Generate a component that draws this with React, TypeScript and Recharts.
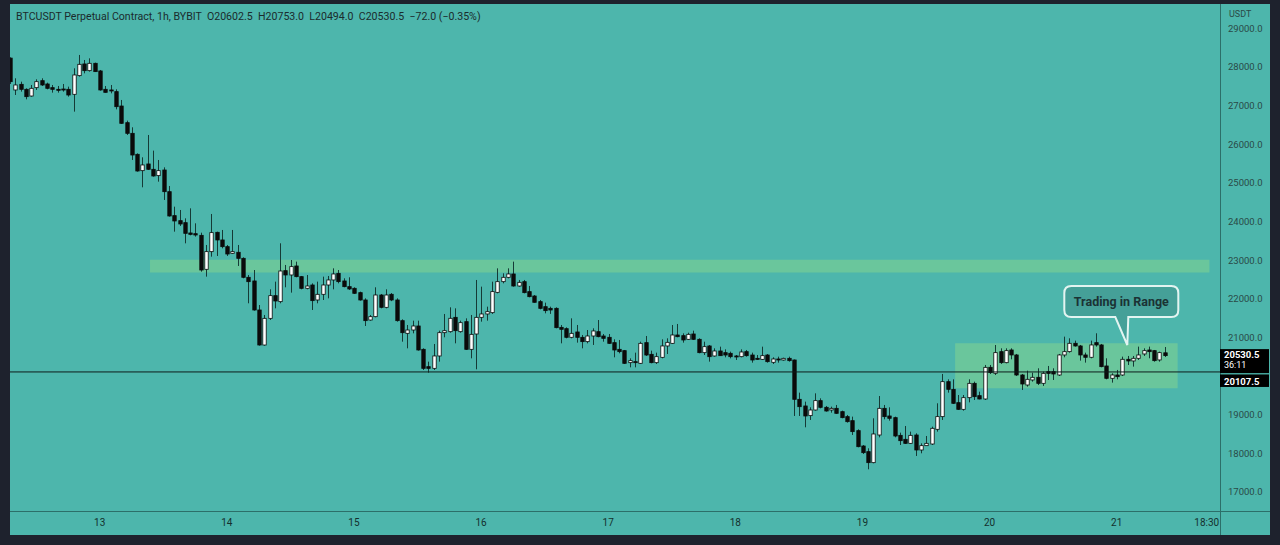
import React from "react";
import { Bar, ComposedChart, ReferenceArea, ReferenceDot, ReferenceLine, XAxis, YAxis } from "recharts";

// BTCUSDT 1h candles (oldest first)
const opens = [
  28230, 27405, 27551, 27422, 27249, 27465, 27646, 27560, 27465, 27422, 27430, 27422, 27293, 27776, 28078, 27905,
  28095, 27897, 27422, 27405, 27362, 26990, 26559, 26283, 25740, 25317, 25490, 25352, 25188, 25334, 24773, 24153,
  24023, 23971, 23704, 23686, 23643, 22764, 23221, 23721, 23523, 23350, 23178, 23204, 23048, 22557, 22462, 21711,
  20805, 21495, 22082, 21927, 22729, 22617, 22850, 22574, 22272, 22358, 21970, 22117, 22358, 22488, 22660, 22462,
  22315, 22272, 22160, 21970, 21452, 21538, 22099, 21780, 22117, 21970, 21435, 21107, 21193, 21297, 20693, 20244,
  20201, 20521, 21124, 21150, 21521, 21150, 21409, 20693, 21090, 21521, 21608, 21642, 22168, 22444, 22557, 22643,
  22332, 22444, 22186, 22073, 21927, 21797, 21754, 21754, 21262, 21228, 21004, 21142, 21004, 20892, 21038, 21150,
  21038, 21004, 20866, 20693, 20659, 20348, 20374, 20331, 20866, 20564, 20348, 20486, 20780, 20848, 21064, 21047,
  20952, 21090, 20952, 20607, 20780, 20521, 20650, 20607, 20590, 20521, 20503, 20633, 20546, 20460, 20434, 20546,
  20357, 20443, 20417, 20460, 20417, 19399, 19227, 18977, 19123, 19365, 19192, 19123, 19166, 19080, 18951, 18847,
  18589, 18191, 18045, 17760, 18476, 19166, 18968, 18925, 18467, 18364, 18260, 18476, 18088, 18200, 18243, 18623,
  18951, 19856, 19658, 19313, 19140, 19442, 19813, 19494, 19408, 20228, 20073, 20633, 20348, 20676, 20547, 20029,
  19770, 19900, 19969, 19813, 20116, 20116, 20029, 20547, 20633, 20849, 20780, 20547, 20487, 20866, 20806, 20262,
  19943, 20029, 20029, 20435, 20392, 20461, 20573, 20676, 20659, 20418, 20602.5,
];
const highs = [
  28250, 27707, 27620, 27448, 27534, 27681, 27707, 27594, 27534, 27508, 27560, 27491, 27966, 28311, 28181, 28224,
  28112, 27922, 27508, 27534, 27422, 27146, 26611, 26439, 25765, 25662, 26240, 25835, 25593, 25403, 24920, 24385,
  24299, 24083, 24342, 23954, 23712, 23393, 24196, 23738, 23782, 23393, 23782, 23393, 23074, 22617, 22746, 21840,
  21582, 22246, 22445, 23437, 22876, 23005, 22962, 22591, 22617, 22401, 22445, 22574, 22591, 22789, 22746, 22531,
  22557, 22298, 22186, 22013, 21582, 22298, 22125, 22246, 22150, 22013, 21470, 21323, 21435, 21435, 20719, 20374,
  20831, 21176, 21608, 21780, 21754, 21435, 21495, 21582, 22488, 22315, 21797, 22444, 22789, 22660, 22789, 22962,
  22488, 22488, 22332, 22099, 21970, 21901, 21797, 21780, 21323, 21262, 21495, 21323, 21064, 21193, 21237, 21452,
  21090, 21090, 20952, 20935, 20676, 20460, 20607, 20891, 21038, 20659, 20607, 20952, 20978, 21323, 21349, 21107,
  21124, 21176, 20978, 20891, 20805, 20719, 20762, 20693, 20633, 20546, 20693, 20676, 20607, 20546, 20762, 20572,
  20486, 20503, 20477, 20503, 20430, 19572, 19339, 19192, 19554, 19425, 19227, 19209, 19253, 19106, 18994, 18951,
  18623, 18217, 18131, 18908, 19485, 19253, 19192, 18951, 18537, 18709, 18563, 18520, 18260, 18450, 18692, 19296,
  20055, 19917, 19917, 19511, 19511, 19917, 19856, 19597, 20288, 20288, 20805, 20719, 20719, 20719, 20573, 20055,
  20141, 20089, 20202, 20116, 20262, 20202, 20573, 21021, 20978, 20918, 20806, 20607, 20918, 21108, 20832, 20461,
  20072, 20159, 20504, 20521, 20521, 20763, 20719, 20763, 20676, 20633, 20753,
];
const lows = [
  27560, 27275, 27362, 27163, 27232, 27405, 27508, 27422, 27336, 27336, 27362, 27232, 26844, 27750, 27836, 27880,
  27870, 27387, 27336, 27318, 26904, 26525, 26240, 25593, 25291, 24886, 25334, 25162, 25032, 24558, 24127, 23738,
  23885, 23436, 23643, 23609, 22703, 22574, 23091, 23109, 23307, 23109, 23160, 22850, 22531, 21884, 21694, 20788,
  20788, 21452, 21754, 21884, 22298, 22160, 22557, 22246, 22246, 21711, 21884, 21970, 22013, 22246, 22401, 22298,
  22229, 22125, 21953, 21297, 21435, 21521, 21754, 21754, 21940, 21409, 20891, 20719, 21107, 20659, 20158, 20089,
  20158, 20374, 21004, 21124, 20848, 21124, 20676, 20460, 20176, 21409, 21435, 21608, 22142, 22401, 22530, 22315,
  22315, 22142, 22039, 21901, 21728, 21625, 21610, 21237, 20848, 20978, 20978, 20866, 20719, 20848, 20806, 21004,
  20891, 20831, 20486, 20590, 20313, 20227, 20227, 20313, 20521, 20331, 20313, 20460, 20572, 20831, 21004, 20866,
  20935, 20935, 20590, 20546, 20374, 20503, 20521, 20486, 20460, 20417, 20486, 20503, 20348, 20417, 20417, 20348,
  20313, 20348, 20400, 20374, 18968, 18968, 18675, 18865, 19106, 19166, 19080, 19054, 19020, 18908, 18796, 18476,
  18157, 17984, 17588, 17743, 18416, 18882, 18847, 18416, 18217, 18243, 18243, 17933, 18002, 18191, 18217, 18563,
  18865, 19572, 19278, 19123, 19106, 19321, 19382, 19399, 19382, 20055, 20029, 20314, 20331, 20435, 20003, 19641,
  19727, 19857, 19770, 19745, 19900, 19900, 20003, 20487, 20607, 20763, 20400, 20349, 20461, 20763, 20228, 19917,
  19831, 19917, 20003, 20288, 20245, 20418, 20521, 20461, 20374, 20374, 20494,
];
const closes = [
  27620, 27534, 27422, 27232, 27448, 27620, 27534, 27448, 27422, 27405, 27414, 27275, 27793, 28069, 27905, 28095,
  27880, 27405, 27344, 27379, 26973, 26542, 26283, 25722, 25308, 25464, 25352, 25179, 25317, 24773, 24144, 24015,
  23937, 23695, 23669, 23652, 22746, 23221, 23713, 23523, 23350, 23160, 23221, 23048, 22557, 22444, 21711, 20805,
  21495, 22082, 21944, 22720, 22617, 22833, 22574, 22272, 22332, 21953, 22117, 22358, 22488, 22643, 22445, 22315,
  22255, 22143, 21970, 21435, 21538, 22099, 21780, 22099, 21970, 21435, 21124, 21193, 21297, 20676, 20201, 20201,
  20521, 21124, 21176, 21496, 21176, 21383, 20693, 21081, 21521, 21608, 21668, 22186, 22444, 22557, 22643, 22332,
  22427, 22160, 22056, 21910, 21754, 21694, 21711, 21254, 21211, 21004, 21107, 21004, 20892, 21038, 21168, 21021,
  20978, 20848, 20676, 20633, 20331, 20400, 20348, 20848, 20546, 20348, 20503, 20780, 20874, 21064, 21021, 20935,
  21081, 20952, 20607, 20762, 20503, 20650, 20529, 20546, 20503, 20503, 20624, 20529, 20417, 20434, 20529, 20374,
  20443, 20425, 20460, 20400, 19399, 19209, 18968, 19123, 19365, 19192, 19097, 19166, 19037, 18925, 18821, 18563,
  18174, 18019, 17760, 18502, 19166, 18951, 18908, 18450, 18329, 18260, 18467, 18088, 18200, 18260, 18649, 18951,
  19856, 19658, 19296, 19140, 19442, 19813, 19468, 19408, 20227, 20090, 20607, 20348, 20659, 20547, 20029, 19796,
  19917, 19969, 19813, 20072, 20072, 20055, 20547, 20633, 20849, 20780, 20547, 20487, 20806, 20806, 20245, 19943,
  20029, 19986, 20435, 20392, 20461, 20547, 20659, 20633, 20400, 20607, 20530.5,
];

const emptySlots = 10; // bars to the right of the last candle
const dayLabels = ["13", "14", "15", "16", "17", "18", "19", "20", "21", "18:30"];
const dayTickSlots = [17, 41, 65, 89, 113, 137, 161, 185, 209, 226];
// 20000 is hidden behind the price tags on the original
const priceTicks = [17000, 18000, 19000, 21000, 22000, 23000, 24000, 25000, 26000, 27000, 28000, 29000];
const supplyZone = { from: 27, to: 226, low: 22680, high: 23010 };
const rangeZone = { from: 179, to: 220, low: 19684, high: 20849 };
const calloutAt = { slot: 211, price: 20805, text: "Trading in Range" };
const lastPrice = 20530.5;
const countdown = "36:11";
const linePrice = 20107.5;
const title = "BTCUSDT Perpetual Contract, 1h, BYBIT  O20602.5  H20753.0  L20494.0  C20530.5  \u221272.0 (\u22120.35%)";

const data = Array.from({ length: opens.length + emptySlots }, (_, i) =>
  i < opens.length
    ? { i, o: opens[i], h: highs[i], l: lows[i], c: closes[i], range: [lows[i], highs[i]] }
    : { i }
);
const tickText: Record<number, string> = {};
dayTickSlots.forEach((s, k) => (tickText[s] = dayLabels[k]));

const TEAL = "#4db6ac";
const FRAME = "#1e222d";
const SEP = "#2c6f69";

function Candle(props: any) {
  const { x, y, width, height, payload } = props;
  if (!payload || payload.h == null || !isFinite(y)) return null;
  const { o, h, l, c } = payload;
  const top = Math.min(y, y + height);
  const span = Math.abs(height);
  const k = h > l ? span / (h - l) : 0;
  const py = (v: number) => top + (h - v) * k;
  const cx = Math.round(x + width / 2) + 0.5;
  const bTop = py(Math.max(o, c));
  const bH = Math.max(1, py(Math.min(o, c)) - bTop);
  const bw = 3.4;
  return (
    <g>
      <line x1={cx} x2={cx} y1={top} y2={top + span} stroke="#153a36" strokeWidth={1} />
      <rect x={cx - bw / 2} y={bTop} width={bw} height={bH} fill={c >= o ? "#ffffff" : "#0b0b0b"} stroke="#0b0b0b" strokeWidth={0.8} />
    </g>
  );
}

function LastTag(props: any) {
  const vb = props.viewBox;
  if (!vb) return null;
  const x = vb.x + vb.width;
  const y = vb.y;
  return (
    <g>
      <rect x={x} y={y - 6.5} width={49} height={24} fill="#000" />
      <text x={x + 4} y={y + 2.5} fill="#fff" fontSize={9.5} fontWeight={700}>{lastPrice.toFixed(1)}</text>
      <text x={x + 4} y={y + 12.5} fill="#fff" fontSize={9}>{countdown}</text>
    </g>
  );
}

function LineTag(props: any) {
  const vb = props.viewBox;
  if (!vb) return null;
  const x = vb.x + vb.width;
  const y = vb.y;
  return (
    <g>
      <rect x={x} y={y + 2.5} width={49} height={12.5} fill="#000" />
      <text x={x + 4} y={y + 13} fill="#fff" fontSize={9.5} fontWeight={700}>{linePrice.toFixed(1)}</text>
    </g>
  );
}

function Callout(props: any) {
  const { cx, cy } = props;
  if (cx == null || cy == null) return null;
  const L = cx - 63, R = cx + 51, T = cy - 59, B = cy - 28, r = 7;
  const d = `M${L + r},${T} H${R - r} Q${R},${T} ${R},${T + r} V${B - r} Q${R},${B} ${R - r},${B} H${cx + 1} L${cx},${cy} L${cx - 12},${B} H${L + r} Q${L},${B} ${L},${B - r} V${T + r} Q${L},${T} ${L + r},${T} Z`;
  return (
    <g>
      <path d={d} fill="#45a098" stroke="#e3f4f1" strokeWidth={2} />
      <text x={(L + R) / 2} y={(T + B) / 2 + 4.5} textAnchor="middle" fontSize={12.5} fontWeight={700} fill="#1b3234">
        {calloutAt.text}
      </text>
    </g>
  );
}

export default function App() {
  return (
    <div style={{ position: "absolute", left: 0, top: 0, width: 1280, height: 545, background: FRAME, overflow: "hidden", fontFamily: "Roboto, sans-serif" }}>
      <div style={{ position: "absolute", left: 10, top: 4, width: 1260, height: 531, background: TEAL }} />
      <div style={{ position: "absolute", left: 1220, top: 4, width: 1, height: 531, background: SEP }} />
      <div style={{ position: "absolute", left: 10, top: 511, width: 1260, height: 1, background: SEP }} />
      <div style={{ position: "absolute", left: 0, top: 0 }}>
        <ComposedChart width={1280} height={545} data={data} margin={{ top: 4, right: 10, left: 7, bottom: 10 }}>
          <XAxis
            dataKey="i"
            type="category"
            interval={0}
            height={24}
            tickLine={false}
            axisLine={false}
            tick={{ fontSize: 10, fill: "#14302c" }}
            tickFormatter={(v) => tickText[v as number] ?? ""}
          />
          <YAxis
            orientation="right"
            width={50}
            domain={[16509, 29630]}
            allowDataOverflow
            ticks={priceTicks}
            tickLine={false}
            axisLine={false}
            tick={{ fontSize: 9.5, fill: "#2a4a47" }}
            tickFormatter={(v) => Number(v).toFixed(1)}
          />
          <ReferenceArea x1={supplyZone.from} x2={supplyZone.to} y1={supplyZone.low} y2={supplyZone.high} fill="#84d48f" fillOpacity={0.55} stroke="none" />
          <ReferenceArea x1={rangeZone.from} x2={rangeZone.to} y1={rangeZone.low} y2={rangeZone.high} fill="#84d48f" fillOpacity={0.55} stroke="none" />
          <ReferenceLine y={linePrice} stroke="#0e1c1b" strokeWidth={1} label={<LineTag />} />
          <ReferenceLine y={lastPrice} stroke="none" strokeOpacity={0} label={<LastTag />} />
          <Bar dataKey="range" barSize={4} shape={<Candle />} isAnimationActive={false} />
          <ReferenceDot x={calloutAt.slot} y={calloutAt.price} r={0} shape={(p: any) => <Callout {...p} />} />
        </ComposedChart>
      </div>
      <div style={{ position: "absolute", left: 16, top: 10, fontSize: 10.6, lineHeight: "14px", color: "#1b2b2d", whiteSpace: "pre" }}>{title}</div>
      <div style={{ position: "absolute", left: 1229, top: 8, fontSize: 9, lineHeight: "12px", color: "#2a4a47" }}>USDT</div>
      <div style={{ position: "absolute", left: 1221, top: 512, width: 49, height: 23, background: TEAL }} />
      <div style={{ position: "absolute", left: 0, top: 0, width: 10, height: 545, background: FRAME }} />
      <div style={{ position: "absolute", left: 0, top: 0, width: 1280, height: 4, background: FRAME }} />
      <div style={{ position: "absolute", left: 1270, top: 0, width: 10, height: 545, background: FRAME }} />
      <div style={{ position: "absolute", left: 0, top: 535, width: 1280, height: 10, background: FRAME }} />
    </div>
  );
}
